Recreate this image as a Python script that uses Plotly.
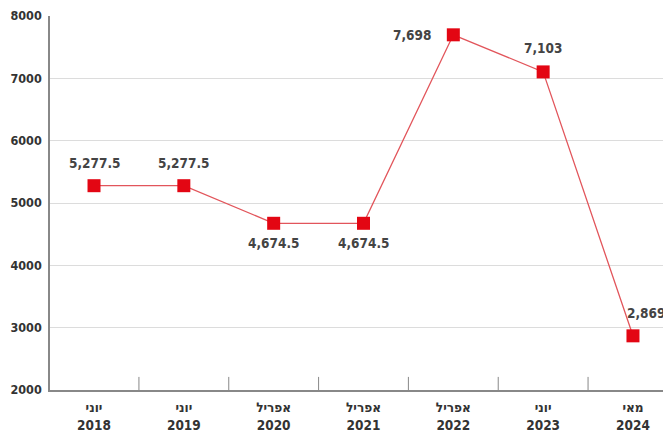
import plotly.graph_objects as go

categories = ["יוני<br>2018", "יוני<br>2019", "אפריל<br>2020", "אפריל<br>2021",
              "אפריל<br>2022", "יוני<br>2023", "מאי<br>2024"]
values = [5277.5, 5277.5, 4674.5, 4674.5, 7698, 7103, 2869]
labels = ["5,277.5", "5,277.5", "4,674.5", "4,674.5", "7,698", "7,103", "2,869"]
label_shift_x = [0, 0, 0, 0, -41, 0, 13]
label_shift_y = [23, 23, -20, -20, 0, 24, 23]
y_ticks = [2000, 3000, 4000, 5000, 6000, 7000, 8000]

x = list(range(len(categories)))
COND = "DejaVu Sans Condensed, DejaVu Sans, sans-serif"

fig = go.Figure()
fig.add_trace(go.Scatter(
    x=x, y=values, mode="lines+markers",
    line=dict(color="#e2555b", width=1.3),
    marker=dict(symbol="square", size=13, color="#e30613"),
    cliponaxis=False, hoverinfo="skip",
))
for xi, v, t, dx, dy in zip(x, values, labels, label_shift_x, label_shift_y):
    fig.add_annotation(x=xi, y=v, text=t, showarrow=False, xshift=dx, yshift=dy,
                       font=dict(family=COND, size=13.5, color="#444", weight="bold"))

fig.update_layout(
    width=663, height=425,
    margin=dict(l=42, r=3, t=8, b=43, autoexpand=False),
    paper_bgcolor="white", plot_bgcolor="white",
    showlegend=False,
    font=dict(family=COND, size=14, color="#333", weight="bold"),
)
fig.update_xaxes(
    tickmode="array", tickvals=x, ticktext=categories,
    range=[-0.49, 6.39], automargin=False,
    showgrid=False, showline=True, linecolor="#888", linewidth=1.5,
    ticks="", zeroline=False, ticklabelstandoff=4,
    tickfont=dict(family=COND, size=13.5, color="#333", weight="bold"),
)
fig.update_yaxes(
    range=[2000, 8000], tickvals=y_ticks, automargin=False,
    showgrid=True, gridcolor="#dcdcdc", gridwidth=1,
    showline=True, linecolor="#888", linewidth=1.5,
    zeroline=False, ticks="", ticklabelstandoff=4,
    ticklabeloverflow="allow",
    tickfont=dict(family=COND, size=12.5, color="#333", weight="bold"),
)
for b in [0.5, 1.5, 2.5, 3.5, 4.5, 5.5]:
    fig.add_shape(type="line", xref="x", yref="paper", x0=b, x1=b, y0=0, y1=0.035,
                  line=dict(color="#888", width=1))

fig.write_html("out.html")
